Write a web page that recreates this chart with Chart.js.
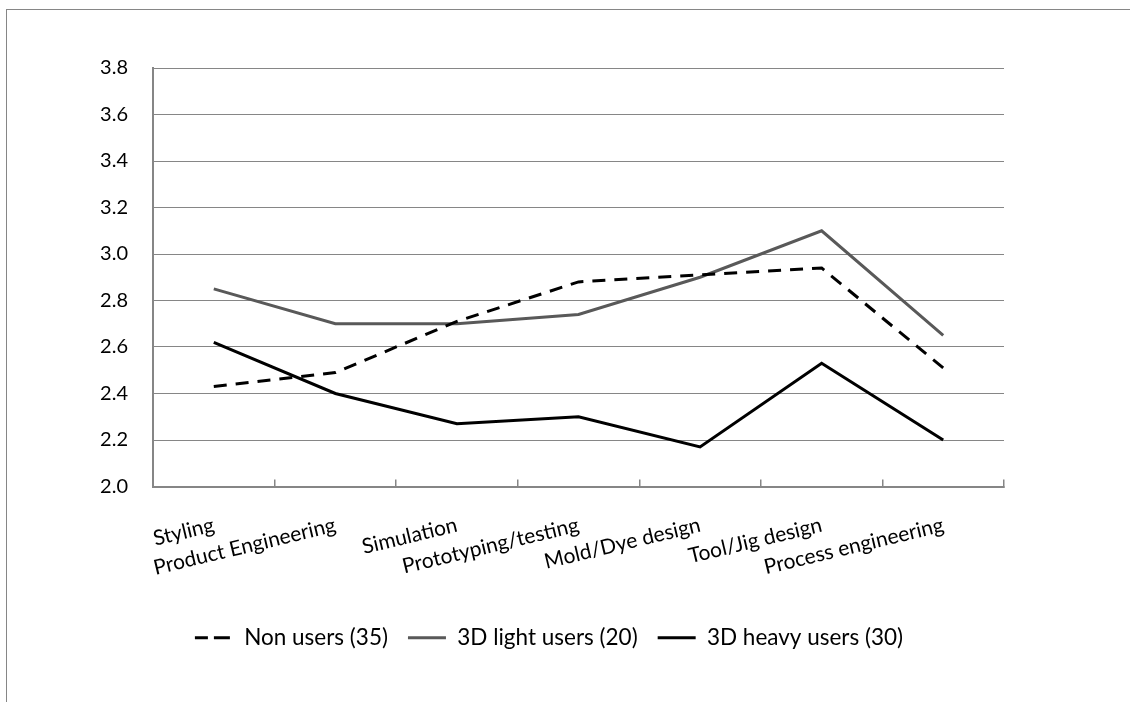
<!DOCTYPE html>
<html>
<head>
<meta charset="utf-8">
<script src="https://cdn.jsdelivr.net/npm/chart.js@4"></script>
<style>
  html, body { margin: 0; padding: 0; background: #ffffff; overflow: hidden; }
  #frame { position: absolute; left: 6px; top: 9px; width: 1400px; height: 1000px;
           border-left: 1px solid #868686; border-top: 1px solid #868686; }
  #wrap { position: absolute; left: 0; top: 0; width: 1098px; height: 702px; }
</style>
</head>
<body>
<div id="frame"></div>
<div id="wrap"><canvas id="c"></canvas></div>
<script>
const categories = ['Styling', 'Product Engineering', 'Simulation', 'Prototyping/testing', 'Mold/Dye design', 'Tool/Jig design', 'Process engineering'];
const seriesNames = ['Non users (35)', '3D light users (20)', '3D heavy users (30)'];
const nonUsers   = [2.43, 2.49, 2.71, 2.88, 2.91, 2.94, 2.51];
const lightUsers = [2.85, 2.70, 2.70, 2.74, 2.90, 3.10, 2.65];
const heavyUsers = [2.62, 2.40, 2.27, 2.30, 2.17, 2.53, 2.20];
const yMin = 2.0, yMax = 3.8, yStep = 0.2;

const FONT = 'Lato, "Liberation Sans", sans-serif';
const GRID = '#868686';

new Chart(document.getElementById('c'), {
  type: 'line',
  data: {
    labels: categories,
    datasets: [
      { label: seriesNames[0], data: nonUsers, borderColor: '#000000', backgroundColor: 'rgba(0,0,0,0)',
        borderWidth: 3, borderDash: [13, 9], pointRadius: 0, tension: 0 },
      { label: seriesNames[1], data: lightUsers, borderColor: '#595959', backgroundColor: 'rgba(0,0,0,0)',
        borderWidth: 3, pointRadius: 0, tension: 0 },
      { label: seriesNames[2], data: heavyUsers, borderColor: '#000000', backgroundColor: 'rgba(0,0,0,0)',
        borderWidth: 3, pointRadius: 0, tension: 0 }
    ]
  },
  options: {
    responsive: true,
    maintainAspectRatio: false,
    animation: false,
    layout: { padding: { left: 94, right: 94, top: 68, bottom: 43 } },
    plugins: {
      legend: {
        position: 'bottom',
        align: 'center',
        labels: {
          boxWidth: 38,
          boxHeight: 0,
          padding: 20,
          color: '#000000',
          font: { family: FONT, size: 22.5 }
        }
      },
      tooltip: { enabled: false }
    },
    scales: {
      x: {
        type: 'category',
        offset: true,
        grid: { display: true, offset: true, drawOnChartArea: false, drawTicks: true,
                tickLength: -7, color: GRID, lineWidth: 1.5 },
        border: { display: true, color: GRID, width: 2 },
        ticks: { autoSkip: false, maxRotation: 13.5, minRotation: 13.5, padding: 33,
                 color: '#000000', font: { family: FONT, size: 21 } },
        afterFit: (s) => { s.height = 120; }
      },
      y: {
        min: yMin, max: yMax,
        grid: { color: GRID, lineWidth: 1, drawTicks: false },
        border: { display: true, color: GRID, width: 2 },
        ticks: { stepSize: yStep, padding: 25, color: '#000000',
                 font: { family: FONT, size: 20 },
                 callback: (v) => Number(v).toFixed(1) },
        afterFit: (s) => { s.width = 59; }
      }
    }
  }
});
</script>
</body>
</html>
